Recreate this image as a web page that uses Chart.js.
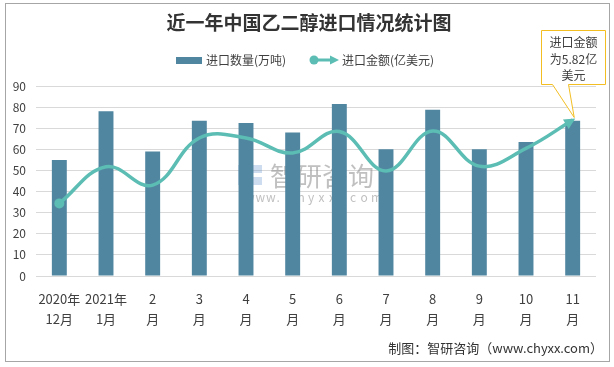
<!DOCTYPE html>
<html>
<head>
<meta charset="utf-8">
<script src="https://cdn.jsdelivr.net/npm/chart.js@4"></script>
<style>
  html, body { margin: 0; padding: 0; background: #fff; }
  #wrap { width: 614px; height: 367px; position: relative; }
</style>
</head>
<body>
<div id="wrap"><canvas id="chart"></canvas></div>
<script>
// 数据
const categories = [['2020年', '12月'], ['2021年', '1月'], ['2', '月'], ['3', '月'], ['4', '月'], ['5', '月'],
                    ['6', '月'], ['7', '月'], ['8', '月'], ['9', '月'], ['10', '月'], ['11', '月']];
const qtyValues = [55, 78, 59, 73.5, 72.5, 68, 81.5, 60, 78.7, 60, 63.5, 73.5];       // 进口数量(万吨)
const amountValues = [2.71, 4.08, 3.39, 5.15, 5.15, 4.59, 5.39, 3.92, 5.41, 4.10, 4.76, 5.82]; // 进口金额(亿美元)
const yTicks = [0, 10, 20, 30, 40, 50, 60, 70, 80, 90];

const FONT = "'Noto Sans CJK SC', 'Microsoft YaHei', sans-serif";
const BAR_COLOR = '#5186A0';
const LINE_COLOR = '#5BBDB3';
const TEXT_COLOR = '#404040';

Chart.defaults.font.family = FONT;
Chart.defaults.color = TEXT_COLOR;

// 标题、图例、标注、水印、外框
const decorPlugin = {
    id: 'decor',
    beforeDatasetsDraw(chart) {
        const ctx = chart.ctx;
        ctx.save();
        // 水印
        ctx.fillStyle = 'rgba(90,140,200,0.3)';
        ctx.fillRect(238, 165, 10, 20);
        ctx.fillRect(250, 165, 12, 8);
        ctx.fillRect(252, 177, 10, 8);
        ctx.fillStyle = 'rgba(140,140,140,0.55)';
        ctx.font = '26px ' + FONT;
        ctx.textAlign = 'left';
        ctx.textBaseline = 'middle';
        ctx.fillText('智研咨询', 270, 176);
        ctx.font = '12px ' + FONT;
        const www = 'www.chyxx.com';
        for (let i = 0; i < www.length; i++) {
            ctx.fillText(www[i], 245 + i * 10.5, 197);
        }
        ctx.restore();
    },
    afterDatasetsDraw(chart) {
        const ctx = chart.ctx;
        const meta = chart.getDatasetMeta(1);
        const pts = meta.data;
        const last = pts[pts.length - 1];
        ctx.save();
        // 箭头
        const dx = last.x - last.cp1x, dy = last.y - last.cp1y;
        const len = Math.hypot(dx, dy) || 1;
        const ux = dx / len, uy = dy / len;
        const tipX = last.x + ux * 3, tipY = last.y + uy * 3;
        ctx.fillStyle = LINE_COLOR;
        ctx.beginPath();
        ctx.moveTo(tipX, tipY);
        ctx.lineTo(tipX - ux * 11 - uy * 5.5, tipY - uy * 11 + ux * 5.5);
        ctx.lineTo(tipX - ux * 11 + uy * 5.5, tipY - uy * 11 - ux * 5.5);
        ctx.closePath();
        ctx.fill();

        // 标注框
        const tx = tipX - 1, ty = tipY - 1;
        ctx.beginPath();
        ctx.moveTo(541.5, 30.5);
        ctx.lineTo(605.5, 30.5);
        ctx.lineTo(605.5, 84.5);
        ctx.lineTo(568.5, 84.5);
        ctx.lineTo(tx, ty);
        ctx.lineTo(552.5, 84.5);
        ctx.lineTo(541.5, 84.5);
        ctx.closePath();
        ctx.fillStyle = '#fff';
        ctx.fill();
        ctx.strokeStyle = '#F2BE22';
        ctx.lineWidth = 1;
        ctx.stroke();
        ctx.fillStyle = TEXT_COLOR;
        ctx.font = '12px ' + FONT;
        ctx.textAlign = 'center';
        ctx.textBaseline = 'middle';
        ctx.fillText('进口金额', 573.5, 42);
        ctx.fillText('为5.82亿', 573.5, 59);
        ctx.fillText('美元', 573.5, 75);
        ctx.restore();
    },
    afterDraw(chart) {
        const ctx = chart.ctx;
        ctx.save();
        // 外框
        ctx.strokeStyle = '#A6A6A6';
        ctx.lineWidth = 1;
        ctx.strokeRect(5.5, 3.5, 604, 358);

        // 标题
        ctx.fillStyle = '#333';
        ctx.font = 'bold 19px ' + FONT;
        ctx.textAlign = 'center';
        ctx.textBaseline = 'middle';
        ctx.fillText('近一年中国乙二醇进口情况统计图', 309, 23);

        // 图例
        ctx.font = '12px ' + FONT;
        ctx.textAlign = 'left';
        ctx.fillStyle = BAR_COLOR;
        ctx.fillRect(176, 57, 26, 7);
        ctx.fillStyle = TEXT_COLOR;
        ctx.fillText('进口数量(万吨)', 206, 60);
        ctx.strokeStyle = LINE_COLOR;
        ctx.lineWidth = 3;
        ctx.beginPath();
        ctx.moveTo(313, 60);
        ctx.lineTo(332, 60);
        ctx.stroke();
        ctx.fillStyle = LINE_COLOR;
        ctx.beginPath();
        ctx.arc(314, 60, 4.5, 0, Math.PI * 2);
        ctx.fill();
        ctx.beginPath();
        ctx.moveTo(339, 60);
        ctx.lineTo(330, 55.5);
        ctx.lineTo(330, 64.5);
        ctx.closePath();
        ctx.fill();
        ctx.fillStyle = TEXT_COLOR;
        ctx.fillText('进口金额(亿美元)', 342, 60);

        // 来源
        ctx.font = '13px ' + FONT;
        ctx.textAlign = 'right';
        ctx.fillStyle = '#333';
        ctx.fillText('制图：智研咨询（www.chyxx.com）', 603, 348);
        ctx.restore();
    }
};

new Chart(document.getElementById('chart'), {
    data: {
        labels: categories,
        datasets: [
            {
                type: 'bar',
                label: '进口数量(万吨)',
                data: qtyValues,
                backgroundColor: BAR_COLOR,
                barPercentage: 0.32,
                categoryPercentage: 1,
                yAxisID: 'y',
                order: 2
            },
            {
                type: 'line',
                label: '进口金额(亿美元)',
                data: amountValues,
                borderColor: LINE_COLOR,
                borderWidth: 3.5,
                tension: 0.4,
                pointRadius: amountValues.map((_, i) => i === 0 ? 5 : 0),
                pointBackgroundColor: LINE_COLOR,
                pointBorderWidth: 0,
                clip: false,
                yAxisID: 'y1',
                order: 1
            }
        ]
    },
    options: {
        responsive: true,
        maintainAspectRatio: false,
        animation: false,
        layout: { padding: { left: 0, right: 18, top: 86, bottom: 0 } },
        plugins: {
            legend: { display: false },
            title: { display: false },
            tooltip: { enabled: false }
        },
        scales: {
            x: {
                grid: { display: false },
                border: { display: false },
                ticks: { color: TEXT_COLOR, font: { size: 13, lineHeight: 1.55 }, padding: 5, maxRotation: 0, autoSkip: false },
                afterFit(scale) { scale.height = 91; }
            },
            y: {
                min: 0,
                max: 90,
                afterBuildTicks(scale) { scale.ticks = yTicks.map(v => ({ value: v })); },
                grid: { color: '#D9D9D9', drawTicks: false },
                border: { display: false },
                ticks: { color: TEXT_COLOR, font: { size: 12 }, padding: 10 },
                afterFit(scale) { scale.width = 36; }
            },
            y1: {
                display: false,
                min: 0,
                max: 7.09
            }
        }
    },
    plugins: [decorPlugin]
});
</script>
</body>
</html>
